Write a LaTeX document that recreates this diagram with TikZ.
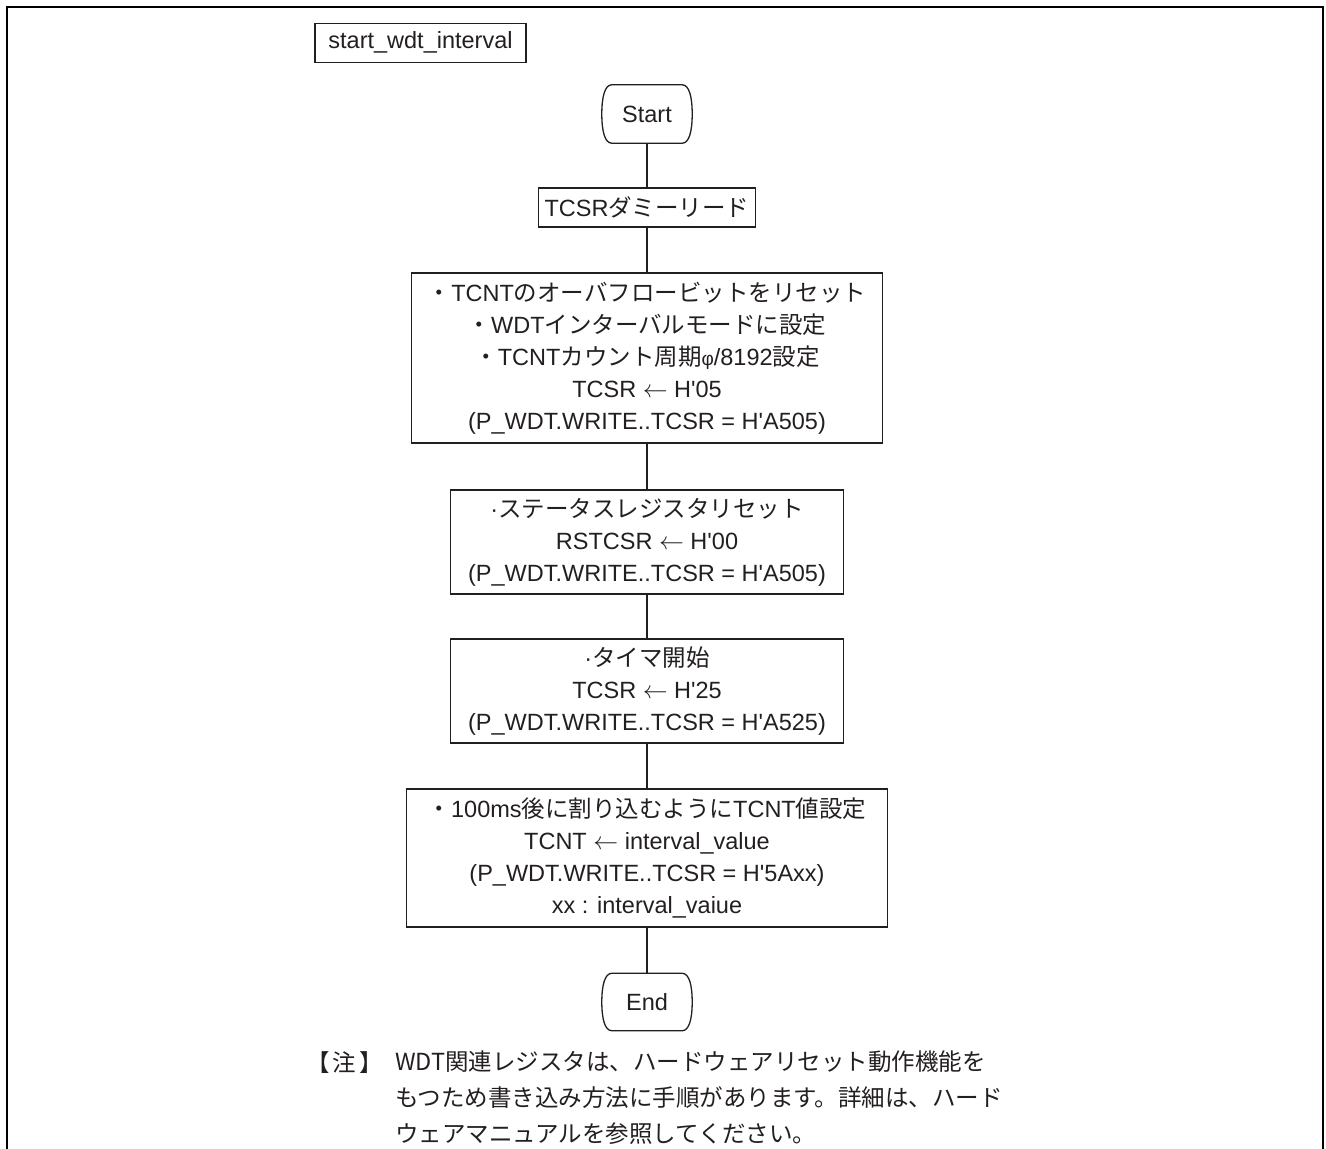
\documentclass[tikz,border=0pt]{standalone}
\usepackage{fontspec}
\setmainfont{Liberation Sans}
\newfontfamily\jpfont{Noto Sans CJK JP}
\usetikzlibrary{calc}
\definecolor{ink}{HTML}{231F20}
\newcommand\jt[1]{{\jpfont #1}}
\newcommand\q{\textquotesingle}
\newcommand\smallphi{{\fontsize{19}{19}\selectfont φ}}
\newcommand\termshape[1]{%
  \draw[line] ($(#1.north west)+(10,0)$) -- ($(#1.north east)+(-10,0)$)
    .. controls ($(#1.north east)+(-3,0)$) and ($(#1.north east)+(0,12)$) .. (#1.east)
    .. controls ($(#1.south east)+(0,-12)$) and ($(#1.south east)+(-3,0)$) .. ($(#1.south east)+(-10,0)$)
    -- ($(#1.south west)+(10,0)$)
    .. controls ($(#1.south west)+(3,0)$) and ($(#1.south west)+(0,-12)$) .. (#1.west)
    .. controls ($(#1.north west)+(0,12)$) and ($(#1.north west)+(3,0)$) .. cycle;}
\begin{document}
\begin{tikzpicture}[x=1pt,y=-1pt,
  line/.style={draw=ink,line width=1.3pt},
  txt/.style={text=ink,font=\fontsize{23.5}{32}\selectfont,inner sep=0pt,align=center},
  procbox/.style={txt,line},
  termbox/.style={txt,minimum width=90pt,minimum height=58pt},
  notetxt/.style={text=ink,font=\jpfont\fontsize{23.5}{36}\selectfont,inner sep=0pt,align=left}]
\useasboundingbox (0,0) rectangle (1326,1149);
\draw[draw=black,line width=2.6pt] (7,1152) -- (7,7) -- (1323,7) -- (1323,1152);

\node[procbox,minimum width=211pt,minimum height=39pt] (title) at (420.5,42.8) {start\_wdt\_interval};

\node[termbox] (start) at (647,114) {Start};
\termshape{start}

\node[procbox,minimum width=217pt,minimum height=39pt] (dummy) at (647,207.5) {TCSR\jt{ダミーリード}};

\node[procbox,minimum width=471pt,minimum height=170pt] (b3) at (647,358)
  {\jt{・}TCNT\jt{のオーバフロービットをリセット}\\
   \jt{・}WDT\jt{インターバルモードに設定}\\
   \jt{・}TCNT\jt{カウント周期}\smallphi/8192\jt{設定}\\
   TCSR $\leftarrow$ H\q05\\
   (P\_WDT.WRITE..TCSR = H\q A505)};

\node[procbox,minimum width=393pt,minimum height=104pt] (b4) at (647,542)
  {·\jt{ステータスレジスタリセット}\\
   RSTCSR $\leftarrow$ H\q00\\
   (P\_WDT.WRITE..TCSR = H\q A505)};

\node[procbox,minimum width=393pt,minimum height=104pt] (b5) at (647,691)
  {·\jt{タイマ開始}\\
   TCSR $\leftarrow$ H\q25\\
   (P\_WDT.WRITE..TCSR = H\q A525)};

\node[procbox,minimum width=481pt,minimum height=138pt] (b6) at (647,858)
  {\jt{・}100ms\jt{後に割り込むように}TCNT\jt{値設定}\\
   TCNT $\leftarrow$ interval\_value\\
   (P\_WDT.WRITE..TCSR = H\q 5Axx)\\
   xx : interval\_vaiue};

\node[termbox,minimum height=57pt] (end) at (647,1002) {End};
\termshape{end}

\draw[line] (start) -- (dummy);
\draw[line] (dummy) -- (b3);
\draw[line] (b3) -- (b4);
\draw[line] (b4) -- (b5);
\draw[line] (b5) -- (b6);
\draw[line] (b6) -- (end);

\node[notetxt,anchor=north west] (notehead) at (306,1051) {【\kern3pt 注\kern3pt 】};
\node[notetxt,anchor=north west] (notebody) at (395,1051)
  {WDT関連レジスタは、ハードウェアリセット動作機能を\\
   もつため書き込み方法に手順があります。詳細は、ハード\\
   ウェアマニュアルを参照してください。};
\end{tikzpicture}
\end{document}
